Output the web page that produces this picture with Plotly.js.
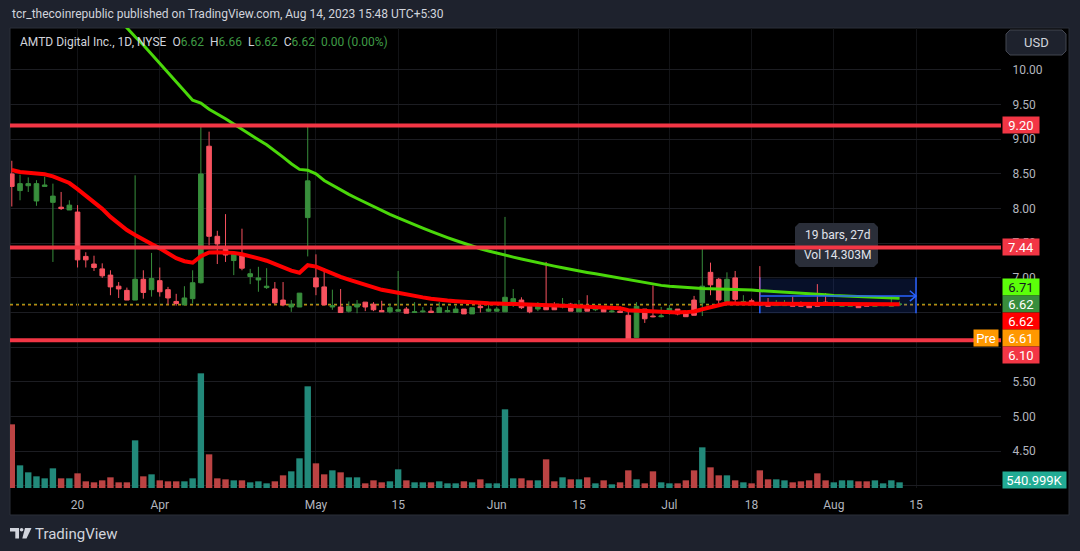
<!DOCTYPE html>
<html><head><meta charset="utf-8">
<script src="https://cdn.plot.ly/plotly-3.0.1.min.js"></script>
<style>html,body{margin:0;padding:0;background:#1e222d;}#chart{width:1080px;height:551px;}</style>
</head><body><div id="chart"></div>
<script>
// ---------- DATA ----------
const dates = [
'2023-03-08','2023-03-09','2023-03-10','2023-03-13','2023-03-14','2023-03-15','2023-03-16','2023-03-17','2023-03-20','2023-03-21',
'2023-03-22','2023-03-23','2023-03-24','2023-03-27','2023-03-28','2023-03-29','2023-03-30','2023-03-31','2023-04-03','2023-04-04',
'2023-04-05','2023-04-06','2023-04-10','2023-04-11','2023-04-12','2023-04-13','2023-04-14','2023-04-17','2023-04-18','2023-04-19',
'2023-04-20','2023-04-21','2023-04-24','2023-04-25','2023-04-26','2023-04-27','2023-04-28','2023-05-01','2023-05-02','2023-05-03',
'2023-05-04','2023-05-05','2023-05-08','2023-05-09','2023-05-10','2023-05-11','2023-05-12','2023-05-15','2023-05-16','2023-05-17',
'2023-05-18','2023-05-19','2023-05-22','2023-05-23','2023-05-24','2023-05-25','2023-05-26','2023-05-30','2023-05-31','2023-06-01',
'2023-06-02','2023-06-05','2023-06-06','2023-06-07','2023-06-08','2023-06-09','2023-06-12','2023-06-13','2023-06-14','2023-06-15',
'2023-06-16','2023-06-20','2023-06-21','2023-06-22','2023-06-23','2023-06-26','2023-06-27','2023-06-28','2023-06-29','2023-06-30',
'2023-07-03','2023-07-05','2023-07-06','2023-07-07','2023-07-10','2023-07-11','2023-07-12','2023-07-13','2023-07-14','2023-07-17',
'2023-07-18','2023-07-19','2023-07-20','2023-07-21','2023-07-24','2023-07-25','2023-07-26','2023-07-27','2023-07-28','2023-07-31',
'2023-08-01','2023-08-02','2023-08-03','2023-08-04','2023-08-07','2023-08-08','2023-08-09','2023-08-10','2023-08-11'];

const open = [8.50,8.26,8.33,8.11,8.32,8.09,8.02,7.98,7.95,7.31, 7.20,7.13,7.04,6.88,6.82,6.68,6.98,6.83,6.96,6.83,
 6.66,6.61,6.70,6.93,8.90,7.60,7.41,7.25,7.32,7.02, 6.97,6.86,6.84,6.68,6.58,6.58,7.87,7.00,6.87,6.58,
 6.58,6.52,6.58,6.65,6.62,6.53,6.51,6.52,6.55,6.50, 6.51,6.52,6.50,6.51,6.50,6.55,6.48,6.59,6.52,6.52,
 6.51,6.65,6.68,6.59,6.55,6.58,6.58,6.58,6.62,6.51, 6.59,6.54,6.58,6.51,6.52,6.46,6.14,6.55,6.45,6.44,
 6.52,6.55,6.50,6.68,6.64,7.08,6.98,6.66,7.00,6.64, 6.67,6.64,6.62,6.60,6.60,6.62,6.62,6.61,6.63,6.65,
 6.60,6.59,6.59,6.61,6.62,6.59,6.60,6.59,6.62];
const high = [8.69,8.49,8.45,8.41,8.46,8.36,8.24,8.12,8.05,7.37, 7.32,7.21,7.11,6.94,6.86,8.48,7.11,7.36,7.15,6.87,
 6.77,6.88,7.11,9.21,9.11,7.68,7.92,7.38,7.71,7.13, 7.16,7.14,6.94,6.94,6.68,6.78,9.21,7.34,7.14,6.83,
 6.84,6.66,6.68,6.65,6.65,6.67,6.63,7.10,6.58,6.65, 6.58,6.58,6.65,6.59,6.60,6.55,6.57,6.65,6.61,6.58,
 7.88,6.84,6.72,6.62,6.65,7.23,6.65,6.71,6.64,6.68, 6.75,6.61,6.58,6.59,6.59,6.55,6.65,6.55,6.89,6.58,
 6.61,6.55,6.50,6.74,7.43,7.22,7.00,7.08,7.10,6.75, 6.70,7.17,6.71,6.68,6.68,6.73,6.66,6.64,6.91,6.78,
 6.68,6.62,6.64,6.62,6.64,6.62,6.62,6.73,6.66];
const low = [8.03,8.12,8.24,8.04,8.32,7.23,7.98,7.98,7.15,7.15, 7.10,7.00,6.75,6.71,6.68,6.68,6.70,6.73,6.73,6.62,
 6.60,6.61,6.63,6.92,7.47,7.20,7.23,7.04,7.11,6.91, 6.80,6.84,6.62,6.59,6.51,6.58,7.31,6.75,6.61,6.54,
 6.50,6.50,6.49,6.52,6.52,6.51,6.49,6.51,6.49,6.50, 6.50,6.50,6.50,6.50,6.50,6.48,6.48,6.50,6.51,6.51,
 6.51,6.58,6.55,6.49,6.52,6.54,6.54,6.56,6.52,6.51, 6.52,6.52,6.51,6.50,6.50,6.09,6.14,6.35,6.43,6.43,
 6.47,6.46,6.44,6.46,6.45,6.75,6.63,6.61,6.63,6.63, 6.61,6.59,6.59,6.60,6.60,6.59,6.59,6.57,6.59,6.61,
 6.59,6.59,6.59,6.57,6.59,6.59,6.59,6.59,6.62];
const close = [8.32,8.36,8.36,8.36,8.34,8.18,8.00,8.05,7.26,7.26, 7.15,7.03,6.87,6.84,6.68,6.98,6.79,6.99,6.80,6.71,
 6.63,6.71,6.93,8.50,7.60,7.49,7.33,7.34,7.14,7.06, 7.00,6.88,6.64,6.61,6.62,6.78,8.40,6.87,6.61,6.60,
 6.50,6.59,6.62,6.58,6.54,6.51,6.57,6.54,6.49,6.51, 6.52,6.50,6.57,6.53,6.55,6.48,6.57,6.57,6.55,6.55,
 6.72,6.70,6.57,6.51,6.59,6.54,6.54,6.59,6.52,6.59, 6.52,6.55,6.51,6.52,6.50,6.10,6.59,6.41,6.44,6.45,
 6.56,6.48,6.44,6.46,6.88,6.90,6.68,6.98,6.69,6.66, 6.62,6.61,6.59,6.62,6.62,6.59,6.59,6.57,6.59,6.61,
 6.62,6.61,6.62,6.57,6.59,6.61,6.62,6.62,6.62];
// volume, shares
const volume = [6074000,2162000,1495000,1113000,922000,1876000,922000,922000,1399000,636000,
 541000,731000,1018000,541000,541000,4547000,1113000,1304000,731000,636000,
 636000,636000,922000,10939000,3212000,922000,827000,731000,731000,541000,
 636000,445000,636000,1208000,1590000,2830000,9699000,2353000,1304000,1685000,
 1495000,1018000,1018000,445000,731000,541000,636000,1781000,731000,541000,
 541000,541000,636000,445000,445000,636000,541000,827000,445000,445000,
 7505000,922000,922000,731000,731000,2735000,636000,1018000,827000,827000,
 1018000,445000,731000,350000,541000,1685000,827000,445000,1590000,541000,
 445000,445000,731000,1685000,3880000,1972000,1208000,1208000,731000,541000,
 445000,1685000,827000,827000,731000,541000,636000,731000,1399000,731000,
 541000,731000,731000,636000,636000,731000,445000,731000,540999];
// slow moving average (green)
const maSlow = [12.42,12.29,12.16,12.03,11.90,11.77,11.64,11.51,11.38,11.25,
 11.12,10.99,10.86,10.73,10.60,10.479,10.361,10.231,10.102,9.973,
 9.843,9.698,9.564,9.524,9.433,9.371,9.297,9.219,9.141,9.068,
 8.994,8.922,8.838,8.743,8.648,8.566,8.554,8.501,8.406,8.335,
 8.264,8.205,8.146,8.087,8.026,7.970,7.918,7.866,7.814,7.765,
 7.718,7.671,7.623,7.582,7.540,7.498,7.456,7.421,7.388,7.355,
 7.327,7.300,7.273,7.245,7.219,7.195,7.170,7.146,7.121,7.100,
 7.079,7.059,7.039,7.019,6.998,6.976,6.953,6.931,6.908,6.892,
 6.879,6.869,6.857,6.850,6.847,6.844,6.842,6.840,6.837,6.833,
 6.824,6.816,6.807,6.798,6.789,6.782,6.773,6.766,6.760,6.755,
 6.747,6.742,6.736,6.730,6.724,6.719,6.714,6.710,6.706];
// fast moving average (red)
const maFast = [8.556,8.528,8.518,8.508,8.495,8.465,8.420,8.369,8.281,8.192,
 8.097,7.996,7.880,7.786,7.690,7.619,7.547,7.488,7.426,7.361,
 7.284,7.241,7.219,7.313,7.367,7.369,7.369,7.361,7.342,7.316,
 7.281,7.248,7.201,7.149,7.105,7.074,7.183,7.163,7.112,7.059,
 7.016,6.975,6.938,6.900,6.864,6.828,6.806,6.781,6.755,6.736,
 6.719,6.700,6.683,6.673,6.664,6.654,6.646,6.640,6.635,6.631,
 6.625,6.620,6.618,6.613,6.609,6.606,6.602,6.597,6.593,6.589,
 6.586,6.581,6.577,6.570,6.561,6.534,6.527,6.521,6.515,6.509,
 6.504,6.502,6.506,6.515,6.547,6.574,6.603,6.633,6.630,6.629,
 6.626,6.624,6.623,6.623,6.623,6.622,6.622,6.621,6.622,6.622,
 6.622,6.621,6.621,6.620,6.620,6.620,6.620,6.620,6.620];
const levels = [9.20, 7.44, 6.10];          // horizontal support/resistance
const preMarket = 6.61;
const tickDates = ['2023-03-20','2023-04-03','2023-05-01','2023-05-15','2023-06-01','2023-06-15','2023-07-03','2023-07-18','2023-08-01','2023-08-15'];
const tickText  = ['20','Apr','May','15','Jun','15','Jul','18','Aug','15'];
const priceTicks = [4.00,4.50,5.00,5.50,6.00,6.50,7.00,7.50,8.00,8.50,9.00,9.50,10.00];
const hiddenPriceTicks = [4.00, 6.00, 6.50];   // covered by price labels in the picture
const measureStart = '2023-07-19', measureEnd = '2023-08-15';
const measureTop = 6.99, measureBottom = 6.49;
const measureText = ['19 bars, 27d', 'Vol 14.303M'];

// ---------- GEOMETRY ----------
const W = 1080, H = 551;
const PL = 10, PR = 1001, PT = 28, PB = 488;
const xMin = -0.22, xMax = 120.34;
const yTop = 10.606, yBot = 3.968;
const volTop = 43.88e6;
const N = dates.length;
const idx = dates.map((d, i) => i);
const UP = '#388e3c', DN = '#f7525f';
const FONT = 'Roboto, "Liberation Sans", sans-serif';

function dateIndex(d) {
  const i = dates.indexOf(d);
  if (i >= 0) return i;
  let k = N - 1;
  const cur = new Date(dates[N - 1] + 'T00:00:00Z'), t = new Date(d + 'T00:00:00Z');
  while (cur < t) { cur.setUTCDate(cur.getUTCDate() + 1); const wd = cur.getUTCDay(); if (wd !== 0 && wd !== 6) k++; }
  return k;
}
const px = x => (x - PL) / (PR - PL);
const py = y => (PB - y) / (PB - PT);
const priceToPx = p => PT + (yTop - p) / (yTop - yBot) * (PB - PT);
function pathPx(pts) { return 'M' + pts.map(p => px(p[0]) + ',' + py(p[1])).join('L') + 'Z'; }

const isUp = close.map((c, i) => c > open[i] || (c === open[i] && (i === 0 || c >= close[i - 1])));
const volColors = isUp.map(u => u ? '#22897a' : '#bb4343');

const traces = [
  { type: 'scatter', mode: 'lines', x: idx, y: maSlow, line: { color: '#4ad80a', width: 3 }, hoverinfo: 'skip' },
  { type: 'scatter', mode: 'lines', x: idx, y: maFast, line: { color: '#ff0000', width: 4 }, hoverinfo: 'skip' },
  { type: 'candlestick', x: idx, open: open, high: high, low: low, close: close, whiskerwidth: 0,
    increasing: { line: { color: UP, width: 1 }, fillcolor: UP },
    decreasing: { line: { color: DN, width: 1 }, fillcolor: DN }, hoverinfo: 'skip' },
  { type: 'bar', x: idx, y: volume, yaxis: 'y2', marker: { color: volColors, line: { width: 0 } }, hoverinfo: 'skip' }
];

const shapes = [];
// chart frame
shapes.push({ type: 'rect', xref: 'paper', yref: 'paper', x0: px(10), x1: px(1069), y0: py(515), y1: py(28),
  fillcolor: '#000000', line: { color: '#2a2e39', width: 1 }, layer: 'below' });
// close & pre-market dotted lines
shapes.push({ type: 'line', xref: 'paper', yref: 'y', x0: 0, x1: 1, y0: close[N - 1], y1: close[N - 1],
  line: { color: '#4caf50', width: 1, dash: 'dot' }, layer: 'between' });
shapes.push({ type: 'line', xref: 'paper', yref: 'y', x0: 0, x1: 1, y0: preMarket, y1: preMarket,
  line: { color: '#ff9800', width: 1, dash: 'dot' }, layer: 'between' });
// measurement box
const mS = dateIndex(measureStart), mE = dateIndex(measureEnd), mMid = (measureTop + measureBottom) / 2;
shapes.push({ type: 'rect', xref: 'x', yref: 'y', x0: mS, x1: mE, y0: measureBottom, y1: measureTop,
  fillcolor: 'rgba(41,98,255,0.16)', line: { width: 0 }, layer: 'between' });
[mS, mE].forEach(xv => shapes.push({ type: 'line', xref: 'x', yref: 'y', x0: xv, x1: xv, y0: measureBottom, y1: measureTop + 0.02,
  line: { color: '#2962ff', width: 1.5 }, layer: 'between' }));
shapes.push({ type: 'line', xref: 'x', yref: 'y', x0: mS, x1: mE, y0: mMid, y1: mMid, line: { color: '#2962ff', width: 1.5 } });
shapes.push({ type: 'path', xref: 'x', yref: 'y',
  path: `M${mE - 0.75},${mMid + 0.075}L${mE},${mMid}L${mE - 0.75},${mMid - 0.075}`, line: { color: '#2962ff', width: 1.5 } });
// measurement tooltip box (rounded)
const tipCx = px(11.8 + (mS + mE) / 2 * 8.22);
const tipL = 795, tipR = 878, tipT = 223, tipB = 267, r = 4;
shapes.push({ type: 'path', xref: 'paper', yref: 'paper',
  path: pathPx([[tipL + r, tipT], [tipR - r, tipT], [tipR, tipT + r], [tipR, tipB - r], [tipR - r, tipB], [tipL + r, tipB], [tipL, tipB - r], [tipL, tipT + r]]),
  fillcolor: '#2a2e39', line: { width: 0 } });
// horizontal levels
levels.forEach(l => shapes.push({ type: 'line', xref: 'paper', yref: 'y', x0: 0, x1: 1, y0: l, y1: l,
  line: { color: '#f23645', width: 4 } }));
// USD button
shapes.push({ type: 'path', xref: 'paper', yref: 'paper', path: pathPx([[1010,30],[1062,30],[1066,34],[1066,51],[1062,55],[1010,55],[1006,51],[1006,34]]),
  fillcolor: '#1e222d', line: { color: '#434651', width: 1 } });
// TradingView logo
shapes.push({ type: 'path', xref: 'paper', yref: 'paper', path: pathPx([[10,528],[19,528],[19,538.5],[15.3,538.5],[15.3,531.6],[10,531.6]]), fillcolor: '#d1d4dc', line: { width: 0 } });
shapes.push({ type: 'circle', xref: 'paper', yref: 'paper', x0: px(19.8), x1: px(23.4), y0: py(528), y1: py(531.6), fillcolor: '#d1d4dc', line: { width: 0 } });
shapes.push({ type: 'path', xref: 'paper', yref: 'paper', path: pathPx([[25,528],[31.5,528],[26.5,538.5],[22.3,538.5]]), fillcolor: '#d1d4dc', line: { width: 0 } });

const annotations = [];
// header text
annotations.push({ xref: 'paper', yref: 'paper', x: px(10), y: py(14.5), xanchor: 'left', yanchor: 'middle', showarrow: false,
  text: 'tcr_thecoinrepublic published on TradingView.com, Aug 14, 2023 15:48 UTC+5:30',
  font: { family: FONT, size: 12, color: '#d1d4dc' } });
// legend line
const g = s => '<span style="color:#3f9b45">' + s + '</span>';
const L = N - 1, chg = close[L] - close[L - 1];
const sp = '\u00a0\u00a0';
annotations.push({ xref: 'paper', yref: 'paper', x: px(18), y: py(42), xanchor: 'left', yanchor: 'middle', showarrow: false,
  text: 'AMTD Digital Inc., 1D, NYSE' + sp + 'O' + g(open[L].toFixed(2)) + sp + 'H' + g(high[L].toFixed(2)) + sp + 'L' + g(low[L].toFixed(2)) +
        sp + 'C' + g(close[L].toFixed(2)) + sp + g(chg.toFixed(2) + ' (' + (chg / close[L - 1] * 100).toFixed(2) + '%)'),
  font: { family: FONT, size: 12, color: '#d1d4dc' } });
// USD text
annotations.push({ xref: 'paper', yref: 'paper', x: px(1036), y: py(42.5), xanchor: 'center', yanchor: 'middle', showarrow: false,
  text: 'USD', font: { family: FONT, size: 13, color: '#d1d4dc' } });
// footer
annotations.push({ xref: 'paper', yref: 'paper', x: px(33), y: py(533.5), xanchor: 'left', yanchor: 'middle', showarrow: false,
  text: 'TradingView', font: { family: FONT, size: 15, color: '#d1d4dc' } });
// measurement tooltip text
annotations.push({ xref: 'paper', yref: 'paper', x: tipCx, y: py(235), xanchor: 'center', yanchor: 'middle', showarrow: false,
  text: measureText[0], font: { family: FONT, size: 12, color: '#e0e3eb' } });
annotations.push({ xref: 'paper', yref: 'paper', x: tipCx, y: py(254.5), xanchor: 'center', yanchor: 'middle', showarrow: false,
  text: measureText[1], font: { family: FONT, size: 12, color: '#e0e3eb' } });

// right-axis price labels with stacking around the close label
const LBL_H = 17;
const labels = [
  { p: levels[0], t: levels[0].toFixed(2), bg: '#f23645', fg: '#ffffff' },
  { p: levels[1], t: levels[1].toFixed(2), bg: '#f23645', fg: '#ffffff' },
  { p: maSlow[L], t: maSlow[L].toFixed(2), bg: '#5cff0a', fg: '#131722' },
  { p: close[L], t: close[L].toFixed(2), bg: UP, fg: '#ffffff', anchor: true },
  { p: maFast[L], t: maFast[L].toFixed(2), bg: '#ff0000', fg: '#ffffff' },
  { p: preMarket, t: preMarket.toFixed(2), bg: '#ff9800', fg: '#ffffff', pre: true },
  { p: levels[2], t: levels[2].toFixed(2), bg: '#f23645', fg: '#ffffff' }
];
const ai = labels.findIndex(l => l.anchor);
labels.forEach(l => l.y = priceToPx(l.p));
for (let i = ai - 1; i >= 0; i--) labels[i].y = Math.min(labels[i].y, labels[i + 1].y - LBL_H);
for (let i = ai + 1; i < labels.length; i++) labels[i].y = Math.max(labels[i].y, labels[i - 1].y + LBL_H);
labels.forEach(l => {
  annotations.push({ xref: 'paper', yref: 'paper', x: px(1002), y: py(l.y), xanchor: 'left', yanchor: 'middle', showarrow: false,
    text: l.t, width: 32, height: 12, borderpad: 2, bgcolor: l.bg, align: 'center',
    font: { family: FONT, size: 13, color: l.fg } });
  if (l.pre) annotations.push({ xref: 'paper', yref: 'paper', x: px(999), y: py(l.y), xanchor: 'right', yanchor: 'middle', showarrow: false,
    text: 'Pre', width: 20, height: 12, borderpad: 2, bgcolor: l.bg, align: 'center', font: { family: FONT, size: 13, color: '#ffffff' } });
});
// volume label
const vPx = Math.min(PB - volume[L] / volTop * (PB - PT), PB - 8.5);
annotations.push({ xref: 'paper', yref: 'paper', x: px(1002), y: py(vPx), xanchor: 'left', yanchor: 'middle', showarrow: false,
  text: (volume[L] / 1000).toFixed(3) + 'K', width: 59, height: 12, borderpad: 2, bgcolor: '#22ab94', align: 'center',
  font: { family: FONT, size: 13, color: '#ffffff' } });

const layout = {
  width: W, height: H, margin: { l: PL, r: W - PR, t: PT, b: H - PB, pad: 0 },
  paper_bgcolor: '#1e222d', plot_bgcolor: 'rgba(0,0,0,0)', showlegend: false, hovermode: false, dragmode: false,
  boxgap: 0.3, boxgroupgap: 0.2, bargap: 0.22,
  xaxis: { type: 'linear', range: [xMin, xMax], tickvals: tickDates.map(dateIndex), ticktext: tickText,
    showgrid: true, gridcolor: '#121316', zeroline: false, showline: false, ticks: 'outside', ticklen: 6, tickcolor: 'rgba(0,0,0,0)',
    tickfont: { family: FONT, size: 12, color: '#b2b5be' }, rangeslider: { visible: false }, fixedrange: true },
  yaxis: { side: 'right', range: [yBot, yTop], tickvals: priceTicks,
    ticktext: priceTicks.map(v => hiddenPriceTicks.includes(v) ? '' : v.toFixed(2)),
    showgrid: true, gridcolor: '#1c1d22',
    zeroline: false, showline: false, ticks: 'outside', ticklen: 8, tickcolor: 'rgba(0,0,0,0)',
    tickfont: { family: FONT, size: 12, color: '#b2b5be' }, fixedrange: true },
  yaxis2: { overlaying: 'y', range: [0, volTop], visible: false, fixedrange: true },
  shapes: shapes, annotations: annotations
};
Plotly.newPlot('chart', traces, layout, { staticPlot: true, displayModeBar: false });
</script></body></html>
